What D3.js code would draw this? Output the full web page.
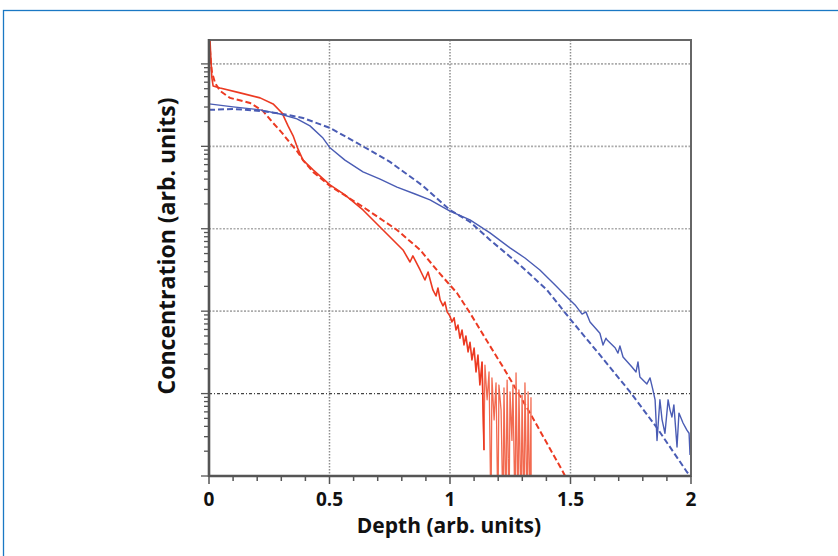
<!DOCTYPE html>
<html><head><meta charset="utf-8">
<script src="https://cdn.jsdelivr.net/npm/d3@7"></script>
<style>body{margin:0;background:#fff}svg{display:block}</style>
</head><body><svg id="c" width="838" height="556"></svg>
<script>
// ---------- data ----------
const depthTicks = [0, 0.5, 1, 1.5, 2];
const depthTickLabels = ["0", "0.5", "1", "1.5", "2"];
const xTitle = "Depth (arb. units)";
const yTitle = "Concentration (arb. units)";

const redMeasuredDepth = [0.004,0.008,0.012,0.017,0.046,0.129,0.212,0.266,0.303,0.328,0.349,0.369,0.390,0.432,0.502,0.564,0.639,0.722,0.805,0.834,0.846,0.876,0.896,0.909,0.929,0.942,0.950,0.959,0.971,0.979,0.988,1.000,1.008,1.017,1.025,1.033,1.041,1.050,1.058,1.066,1.075,1.083,1.091,1.100,1.108,1.116,1.124,1.133,1.141,1.145,1.154,1.162,1.170,1.174,1.183,1.191,1.199,1.203,1.212,1.220,1.224,1.232,1.237,1.245,1.249,1.257,1.261,1.270,1.274,1.282,1.286,1.295,1.299,1.307,1.311,1.320,1.324,1.332,1.336,1.337];
const redMeasuredConc = [2.0e5,1.12e5,6.76e4,5.41e4,5.11e4,4.45e4,3.87e4,3.27e4,2.54e4,1.77e4,1.34e4,9.3e3,6.8e3,5.17e3,3.40e3,2.57e3,1.69e3,967,553,395,468,316,239,299,181,153,191,137,116,129,98,87,74,83,59,68,47,59,39,50,32,42,25.6,35.7,18.3,29.4,12.7,24.2,2.07,22.2,8.4,18.3,0.3,15.5,4.8,13.5,0.3,12.7,6.3,0.3,11.7,0.3,14.6,0.3,10.5,2.7,12.7,0.3,17.8,0.3,11.1,0.3,9.6,0.3,13.5,0.3,10.5,0.3,8.9,0.3];

const redModelDepth = [0,0.004,0.008,0.012,0.025,0.046,0.087,0.170,0.224,0.266,0.303,0.336,0.365,0.390,0.432,0.502,0.639,0.780,0.876,0.959,1.029,1.083,1.166,1.220,1.332,1.469,1.481];
const redModelConc = [1.95e5,1.48e5,1.03e5,8.0e4,5.88e4,4.70e4,3.87e4,3.36e4,2.69e4,1.92e4,1.46e4,1.10e4,8.8e3,6.8e3,4.89e3,3.31e3,1.84e3,967,553,283,166,95,37.8,21,5.8,1.12,0.95];

const blueMeasuredDepth = [0,0.100,0.212,0.295,0.365,0.419,0.473,0.502,0.564,0.639,0.710,0.780,0.855,0.917,1.000,1.083,1.166,1.249,1.311,1.373,1.436,1.485,1.519,1.548,1.564,1.581,1.622,1.635,1.647,1.651,1.685,1.697,1.705,1.718,1.755,1.772,1.780,1.788,1.817,1.830,1.842,1.851,1.859,1.871,1.880,1.892,1.905,1.913,1.921,1.929,1.942,1.950,1.967,1.983,1.992,1.996];
const blueMeasuredConc = [3.27e4,3.01e4,2.77e4,2.47e4,2.15e4,1.77e4,1.26e4,9.6e3,6.8e3,4.9e3,4.0e3,3.2e3,2.64e3,2.24e3,1.64e3,1.28e3,890,585,442,316,208,149,119,92,98,74,54,38.9,47,45,36,31,37.8,27.8,21,18.3,24.2,15.9,13.1,15.5,11.1,8.4,2.7,8.4,4.8,3.3,8.4,6.3,5.2,7.3,2.25,5.8,4.4,3.6,3.3,1.8];

const blueModelDepth = [0,0.100,0.212,0.307,0.390,0.502,0.614,0.751,0.888,1.000,1.083,1.166,1.290,1.402,1.502,1.622,1.747,1.859,1.983,2.000];
const blueModelConc = [2.77e4,2.84e4,2.69e4,2.47e4,2.21e4,1.67e4,1.10e4,6.47e3,3.31e3,1.69e3,1.21e3,731,364,181,78,29.4,10.5,3.83,1.12,0.97];

// ---------- drawing ----------
const svg = d3.select("#c");
const W = 838, H = 556;
const L = 209, R = 691, T = 40, B = 476;
const x = d3.scaleLinear().domain([0, 2]).range([L, R]);
const y = d3.scaleLog().domain([1, 1.95e5]).range([B, T]);
const red = "#ec3a22", redLight = "#f26a50", blue = "#4a5cb4";

svg.append("rect").attr("x", 3.5).attr("y", 10.5).attr("width", W).attr("height", H)
  .attr("fill", "none").attr("stroke", "#1a78c4").attr("stroke-width", 1.3);

svg.append("defs").append("clipPath").attr("id", "clip")
  .append("rect").attr("x", L).attr("y", T).attr("width", R - L).attr("height", B - T);

// grid
const decades = [1e1, 1e2, 1e3, 1e4, 1e5];
svg.append("g").selectAll("line").data(decades).join("line")
  .attr("x1", L).attr("x2", R).attr("y1", d => y(d)).attr("y2", d => y(d))
  .attr("stroke", d => d === 1e1 ? "#444" : "#ababab")
  .attr("stroke-width", d => d === 1e1 ? 1.1 : 1.7)
  .attr("stroke-dasharray", d => d === 1e1 ? "3,2,1,2" : "2,1.5");
svg.append("g").selectAll("line").data(depthTicks.filter(d => d > 0 && d < 2)).join("line")
  .attr("x1", d => x(d)).attr("x2", d => x(d)).attr("y1", T).attr("y2", B)
  .attr("stroke", "#8f8f8f").attr("stroke-width", 1.5).attr("stroke-dasharray", "1.5,1.5");

// series
const line = d3.line().x(d => x(d[0])).y(d => y(d[1]));
const plot = svg.append("g").attr("clip-path", "url(#clip)");
const zip = (a, b) => a.map((v, i) => [v, b[i]]);
const redMeasured = zip(redMeasuredDepth, redMeasuredConc);
plot.append("path").datum(zip(redModelDepth, redModelConc)).attr("d", line)
  .attr("fill", "none").attr("stroke", red).attr("stroke-width", 2).attr("stroke-dasharray", "6,3");
plot.append("path").datum(zip(blueModelDepth, blueModelConc)).attr("d", line)
  .attr("fill", "none").attr("stroke", blue).attr("stroke-width", 2).attr("stroke-dasharray", "6,3");
// noisy tail drawn lighter (thin spikes), main part solid
plot.append("path").datum(redMeasured.filter(d => d[0] >= 1.13)).attr("d", line)
  .attr("fill", "none").attr("stroke", redLight).attr("stroke-width", 1.3).attr("stroke-linejoin", "round");
plot.append("path").datum(redMeasured.filter(d => d[0] <= 1.141)).attr("d", line)
  .attr("fill", "none").attr("stroke", red).attr("stroke-width", 1.6).attr("stroke-linejoin", "round");
plot.append("path").datum(zip(blueMeasuredDepth, blueMeasuredConc)).attr("d", line)
  .attr("fill", "none").attr("stroke", blue).attr("stroke-width", 1.4).attr("stroke-linejoin", "round");

// frame
svg.append("rect").attr("x", L).attr("y", T).attr("width", R - L).attr("height", B - T)
  .attr("fill", "none").attr("stroke", "#666").attr("stroke-width", 2);
svg.append("line").attr("x1", L).attr("x2", L).attr("y1", T - 1).attr("y2", B + 1)
  .attr("stroke", "#555").attr("stroke-width", 2.6);
svg.append("line").attr("x1", L).attr("x2", R).attr("y1", B).attr("y2", B)
  .attr("stroke", "#555").attr("stroke-width", 2.6);

// y ticks (log minor)
const yTickVals = [];
for (let n = 0; n <= 5; n++) for (let k = 1; k <= 9; k++) { const v = k * Math.pow(10, n); if (v <= 1.95e5) yTickVals.push(v); }
svg.append("g").selectAll("line").data(yTickVals).join("line")
  .attr("x1", L).attr("x2", d => L - (Math.abs(Math.log10(d) - Math.round(Math.log10(d))) < 1e-9 ? 8 : 5))
  .attr("y1", d => y(d)).attr("y2", d => y(d))
  .attr("stroke", "#555").attr("stroke-width", 1.3);

// x ticks
const xMinor = d3.range(0, 21).map(i => i / 10);
svg.append("g").selectAll("line").data(xMinor).join("line")
  .attr("x1", d => x(d)).attr("x2", d => x(d)).attr("y1", B)
  .attr("y2", (d, i) => B + (i % 5 === 0 ? 8 : 5))
  .attr("stroke", "#555").attr("stroke-width", 1.5);

const font = "'Open Sans', 'DejaVu Sans', sans-serif";
svg.append("g").selectAll("text").data(depthTicks).join("text")
  .attr("x", d => x(d)).attr("y", 506).attr("text-anchor", "middle")
  .attr("font-family", font).attr("font-weight", "bold").attr("font-size", 19).attr("fill", "#111")
  .text((d, i) => depthTickLabels[i]);
svg.append("text").attr("x", 449).attr("y", 533).attr("text-anchor", "middle")
  .attr("font-family", font).attr("font-weight", "bold").attr("font-size", 21).attr("fill", "#111")
  .text(xTitle);
svg.append("text").attr("transform", "translate(175,246) rotate(-90)").attr("text-anchor", "middle")
  .attr("font-family", font).attr("font-weight", "bold").attr("font-size", 23).attr("fill", "#111")
  .text(yTitle);
</script></body></html>
